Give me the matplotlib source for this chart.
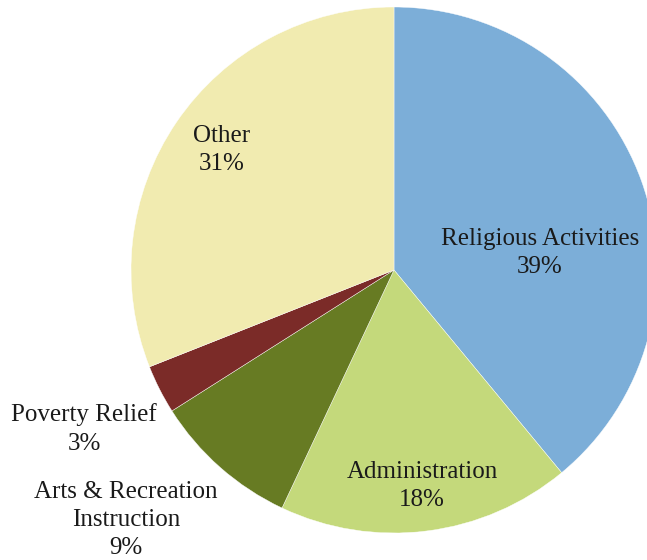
import matplotlib
matplotlib.use("Agg")
import matplotlib.pyplot as plt

categories = ["Religious Activities", "Administration", "Arts & Recreation\nInstruction", "Poverty Relief", "Other"]
values = [39, 18, 9, 3, 31]
colors = ["#7CAED8", "#C4D97B", "#677B23", "#7B2B28", "#F1EBB0"]
# label anchor positions in pixels (x from left, y from top)
label_px = [(540, 253), (422, 486), (126, 520), (84, 429), (222, 150)]

W, H = 647, 560
cx, cy, R = 394, 270, 263

fig = plt.figure(figsize=(W / 100, H / 100), dpi=100)
ax = fig.add_axes([0, 0, 1, 1])
ax.pie(values, colors=colors, startangle=90, counterclock=False, radius=1,
       center=(0, 0), wedgeprops=dict(edgecolor="white", linewidth=0.3))
ax.set_aspect("auto")
ax.set_xlim(-cx / R, (W - cx) / R)
ax.set_ylim(-(H - cy) / R, cy / R)
ax.axis("off")

for cat, v, (px, py) in zip(categories, values, label_px):
    ax.text((px - cx) / R, (cy - py) / R, f"{cat}\n{v}%", ha="center", va="center",
            fontsize=18, family="Liberation Serif", color="#1a1a1a", linespacing=1.38)

fig.savefig("out.png", dpi=100)
